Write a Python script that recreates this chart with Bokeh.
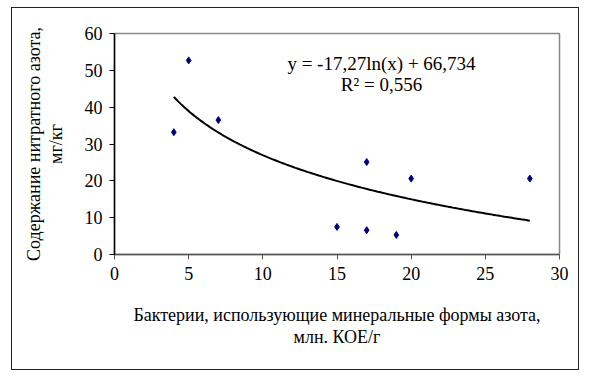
import numpy as np
from bokeh.plotting import figure
from bokeh.models import ColumnDataSource, Label, FixedTicker
from bokeh.embed import file_html
from bokeh.resources import INLINE

# Observations: bacteria count vs nitrate nitrogen content
bacteria = [4, 5, 7, 15, 17, 17, 19, 20, 28]
nitrate = [33.2, 52.7, 36.5, 7.5, 25.1, 6.6, 5.3, 20.6, 20.6]

# Logarithmic trend y = a*ln(x) + b
trend_a = -17.27
trend_b = 66.734
r_squared = 0.556

x_ticks = [0, 5, 10, 15, 20, 25, 30]
y_ticks = [0, 10, 20, 30, 40, 50, 60]

FONT = "Liberation Serif"

p = figure(width=568, height=363, output_backend="svg", toolbar_location=None,
           x_range=(0, 30), y_range=(0, 60),
           min_border_left=102, min_border_right=21, min_border_top=25,
           min_border_bottom=117)
p.margin = (7, 0, 0, 11)
p.styles = {"border": "1px solid #222222"}

p.xgrid.visible = False
p.ygrid.visible = False
p.outline_line_color = "#888888"
p.outline_line_width = 1.5

for ax in (p.xaxis[0], p.yaxis[0]):
    ax.major_label_text_font = FONT
    ax.major_label_text_font_size = "18px"
    ax.major_label_text_color = "black"
    ax.axis_label_text_font = FONT
    ax.axis_label_text_font_size = "18px"
    ax.axis_label_text_font_style = "normal"
    ax.axis_label_text_color = "black"
    ax.axis_label_text_line_height = 1.1
    ax.minor_tick_line_color = None
    ax.major_tick_in = 0
    ax.major_tick_out = 5

p.xaxis.ticker = FixedTicker(ticks=x_ticks)
p.yaxis.ticker = FixedTicker(ticks=y_ticks)
p.xaxis.axis_line_color = "#555555"
p.xaxis.major_tick_line_color = "#555555"
p.xaxis.axis_line_width = 1.5
p.yaxis.axis_line_color = "black"
p.yaxis.axis_line_width = 1.5
p.xaxis.major_label_standoff = 7
p.yaxis.major_label_standoff = 7

p.xaxis.axis_label = "Бактерии, использующие минеральные формы азота,\nмлн. КОЕ/г"
p.yaxis.axis_label = "Содержание нитратного азота,\nмг/кг"
p.xaxis.axis_label_standoff = 22
p.yaxis.axis_label_standoff = 16

# Trend curve over the observed range
xs = np.linspace(min(bacteria), max(bacteria), 200)
ys = trend_a * np.log(xs) + trend_b
p.line(xs, ys, line_color="black", line_width=2)

src = ColumnDataSource(dict(x=bacteria, y=nitrate))
p.scatter("x", "y", source=src, marker="diamond", size=7,
          fill_color="#000080", line_color="#000080")

eq_text = "y = -17,27ln(x) + 66,734"
r2_text = "R² = " + f"{r_squared:.3f}".replace(".", ",")
p.add_layout(Label(x=18.0, y=51.9, text=eq_text, text_align="center",
                   text_baseline="middle", text_font=FONT,
                   text_font_size="19px", text_color="black"))
p.add_layout(Label(x=18.0, y=46.2, text=r2_text, text_align="center",
                   text_baseline="middle", text_font=FONT,
                   text_font_size="19px", text_color="black"))

open("out.html", "w").write(file_html(p, INLINE))
